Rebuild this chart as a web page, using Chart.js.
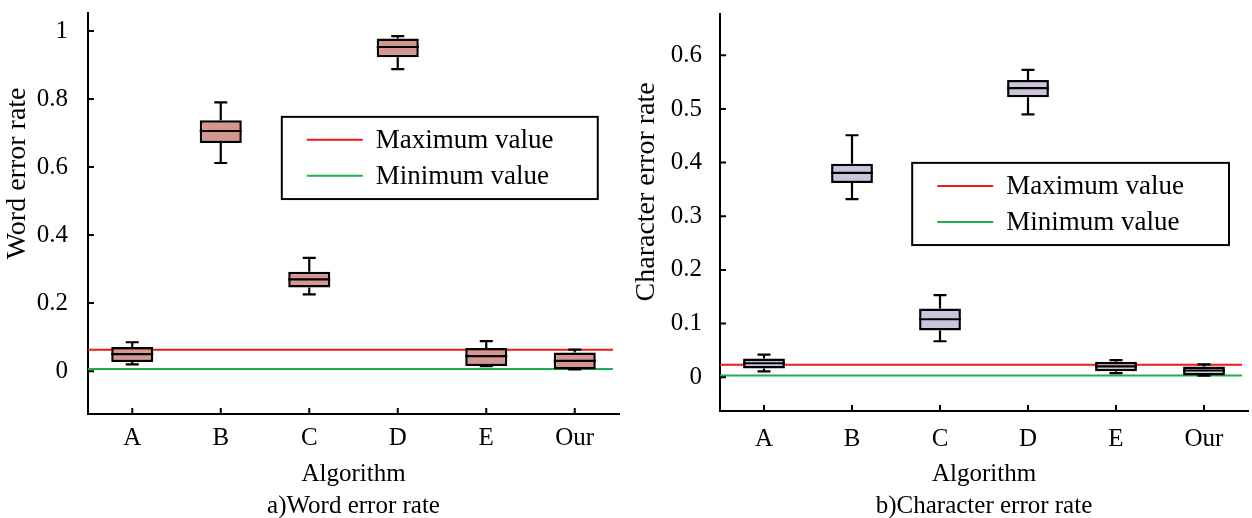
<!DOCTYPE html>
<html>
<head>
<meta charset="utf-8">
<script src="https://cdn.jsdelivr.net/npm/chart.js@4.4.0/dist/chart.umd.min.js"></script>
<style>
  html, body { margin: 0; padding: 0; background: #fff; }
  #wrap { position: relative; width: 1252px; height: 518px; }
  .panel { position: absolute; top: 0; width: 626px; height: 518px; }
  #p1 { left: 0; }
  #p2 { left: 626px; }
</style>
</head>
<body>
<div id="wrap">
  <div class="panel" id="p1"><canvas id="wordChart" width="626" height="518"></canvas></div>
  <div class="panel" id="p2"><canvas id="charChart" width="626" height="518"></canvas></div>
</div>
<script>
const algorithms = ['A', 'B', 'C', 'D', 'E', 'Our'];
const refLabels = ['Maximum value', 'Minimum value'];

// a) word error rate - box stats per algorithm
const wordMin    = [0.020, 0.612, 0.226, 0.888, 0.015, 0.005];
const wordQ1     = [0.027, 0.671, 0.246, 0.923, 0.015, 0.005];
const wordMedian = [0.050, 0.706, 0.270, 0.953, 0.044, 0.030];
const wordQ3     = [0.071, 0.738, 0.292, 0.978, 0.068, 0.055];
const wordMax    = [0.085, 0.790, 0.333, 0.985, 0.088, 0.063];
const wordRefs   = [0.063, 0.006];
const wordTicks  = [0, 0.2, 0.4, 0.6, 0.8, 1];

// b) character error rate
const charMin    = [0.011, 0.332, 0.067, 0.490, 0.0075, 0.003];
const charQ1     = [0.016, 0.362, 0.087, 0.522, 0.011, 0.003];
const charMedian = [0.026, 0.381, 0.108, 0.539, 0.020, 0.0125];
const charQ3     = [0.035, 0.398, 0.128, 0.554, 0.029, 0.020];
const charMax    = [0.042, 0.451, 0.153, 0.573, 0.032, 0.024];
const charRefs   = [0.023, 0.003];
const charTicks  = [0, 0.1, 0.2, 0.3, 0.4, 0.5, 0.6];

const refColors = ['#f01a1a', '#1db04e'];
const SERIF = "'Liberation Serif', 'Times New Roman', serif";

Chart.defaults.font.family = SERIF;
Chart.defaults.color = '#000';

// whiskers, medians, reference lines, inward ticks, legend box and titles
const boxParts = {
  id: 'boxParts',
  beforeDatasetsDraw(chart, args, o) {
    const { ctx, chartArea: a, scales: { y } } = chart;
    o.refs.forEach((v, i) => {
      const py = y.getPixelForValue(v);
      ctx.save();
      ctx.strokeStyle = refColors[i];
      ctx.lineWidth = 2;
      ctx.beginPath();
      ctx.moveTo(a.left, py);
      ctx.lineTo(a.right - 6, py);
      ctx.stroke();
      ctx.restore();
    });
  },
  afterDatasetsDraw(chart, args, o) {
    const { ctx, scales: { y } } = chart;
    const meta = chart.getDatasetMeta(0);
    const ds = chart.data.datasets[0];
    ctx.save();
    ctx.strokeStyle = '#000';
    ctx.lineWidth = 2.2;
    meta.data.forEach((bar, i) => {
      const x = bar.x, w = bar.width;
      const cap = w * 0.31;
      const [q1, q3] = ds.data[i];
      const pMin = y.getPixelForValue(o.min[i]);
      const pMax = y.getPixelForValue(o.max[i]);
      const pQ1 = y.getPixelForValue(q1);
      const pQ3 = y.getPixelForValue(q3);
      const pMed = y.getPixelForValue(o.median[i]);
      ctx.beginPath();
      // upper whisker
      ctx.moveTo(x, pQ3); ctx.lineTo(x, pMax);
      ctx.moveTo(x - cap / 2, pMax); ctx.lineTo(x + cap / 2, pMax);
      // lower whisker
      ctx.moveTo(x, pQ1); ctx.lineTo(x, pMin);
      ctx.moveTo(x - cap / 2, pMin); ctx.lineTo(x + cap / 2, pMin);
      // median
      ctx.moveTo(x - w / 2, pMed); ctx.lineTo(x + w / 2, pMed);
      ctx.stroke();
    });
    ctx.restore();
  },
  afterDraw(chart, args, o) {
    const { ctx, chartArea: a, scales: { x, y } } = chart;
    ctx.save();
    ctx.strokeStyle = '#000';
    ctx.lineWidth = 2;
    // inward ticks
    ctx.beginPath();
    x.ticks.forEach((t, i) => {
      const px = x.getPixelForTick(i);
      ctx.moveTo(px, a.bottom); ctx.lineTo(px, a.bottom - 6);
    });
    y.ticks.forEach((t, i) => {
      const py = y.getPixelForTick(i);
      ctx.moveTo(a.left, py); ctx.lineTo(a.left + 6, py);
    });
    ctx.stroke();

    // legend
    const lx = a.left + a.width * o.legend.x0, rx = a.left + a.width * o.legend.x1;
    const ty = a.top + a.height * o.legend.y0, by = a.top + a.height * o.legend.y1;
    ctx.fillStyle = '#fff';
    ctx.fillRect(lx, ty, rx - lx, by - ty);
    ctx.strokeRect(lx, ty, rx - lx, by - ty);
    ctx.font = '27px ' + SERIF;
    ctx.textBaseline = 'middle';
    ctx.textAlign = 'left';
    refLabels.forEach((lab, i) => {
      const ly = ty + (i === 0 ? 23 : 59);
      ctx.strokeStyle = refColors[i];
      ctx.beginPath();
      ctx.moveTo(lx + 25, ly); ctx.lineTo(lx + 81, ly);
      ctx.stroke();
      ctx.fillStyle = '#000';
      ctx.fillText(lab, lx + 94, ly + 1);
    });

    // y title
    ctx.fillStyle = '#000';
    ctx.save();
    ctx.translate(o.yTitle.x, a.top + a.height * o.yTitle.frac);
    ctx.rotate(-Math.PI / 2);
    ctx.textAlign = 'center';
    ctx.font = '28px ' + SERIF;
    ctx.fillText(o.yTitle.text, 0, 0);
    ctx.restore();

    // caption
    ctx.textAlign = 'center';
    ctx.font = '25px ' + SERIF;
    ctx.fillText(o.caption, (a.left + a.right) / 2, chart.height - 12);
    ctx.restore();
  }
};

function makeBoxChart(canvas, c) {
  return new Chart(canvas, {
    type: 'bar',
    data: {
      labels: algorithms,
      datasets: [{
        data: algorithms.map((_, i) => [c.q1[i], c.q3[i]]),
        backgroundColor: c.fill,
        borderColor: '#000',
        borderWidth: 2.5,
        borderSkipped: false,
        categoryPercentage: 1,
        barPercentage: 0.475
      }]
    },
    options: {
      responsive: false,
      animation: false,
      layout: { padding: c.padding },
      plugins: {
        legend: { display: false },
        tooltip: { enabled: false },
        boxParts: {
          min: c.min, median: c.median, max: c.max, refs: c.refs,
          legend: c.legend, yTitle: c.yTitle, caption: c.caption
        }
      },
      scales: {
        x: {
          grid: { display: false },
          border: { display: true, color: '#000', width: 2 },
          ticks: { font: { size: 25 }, padding: c.xPad, color: '#000' },
          title: {
            display: true, text: 'Algorithm', color: '#000',
            font: { size: 25, lineHeight: 1 }, padding: { top: 0, bottom: c.algPad }
          },
          afterFit: s => { s.height = c.xHeight; s.paddingLeft = 0; s.paddingRight = 0; }
        },
        y: {
          min: c.yMin, max: c.yMax,
          grid: { display: false },
          border: { display: true, color: '#000', width: 2 },
          ticks: { font: { size: 25 }, padding: c.yPad, color: '#000', callback: v => String(v) },
          afterBuildTicks: s => { s.ticks = c.ticks.map(v => ({ value: v })); },
          afterFit: s => { s.width = c.yWidth; s.paddingTop = 0; s.paddingBottom = 0; }
        }
      }
    },
    plugins: [boxParts]
  });
}

makeBoxChart(document.getElementById('wordChart'), {
  q1: wordQ1, q3: wordQ3, min: wordMin, max: wordMax, median: wordMedian,
  refs: wordRefs, ticks: wordTicks, yMin: -0.126, yMax: 1.053,
  fill: '#d5968f',
  padding: { top: 13, right: 7, left: 0, bottom: 0 },
  yWidth: 88, xHeight: 104, xPad: 1.5, yPad: 12, algPad: 31.5,
  legend: { x0: 0.365, x1: 0.960, y0: 0.259, y1: 0.464 },
  yTitle: { text: 'Word error rate', x: 18, frac: 0.40 },
  caption: 'a)Word error rate'
});

makeBoxChart(document.getElementById('charChart'), {
  q1: charQ1, q3: charQ3, min: charMin, max: charMax, median: charMedian,
  refs: charRefs, ticks: charTicks, yMin: -0.063, yMax: 0.677,
  fill: '#ccc4dc',
  padding: { top: 14, right: 4, left: 0, bottom: 0 },
  yWidth: 94, xHeight: 107, xPad: 5, yPad: 10, algPad: 31.5,
  legend: { x0: 0.364, x1: 0.964, y0: 0.375, y1: 0.582 },
  yTitle: { text: 'Character error rate', x: 21, frac: 0.448 },
  caption: 'b)Character error rate'
});
</script>
</body>
</html>
